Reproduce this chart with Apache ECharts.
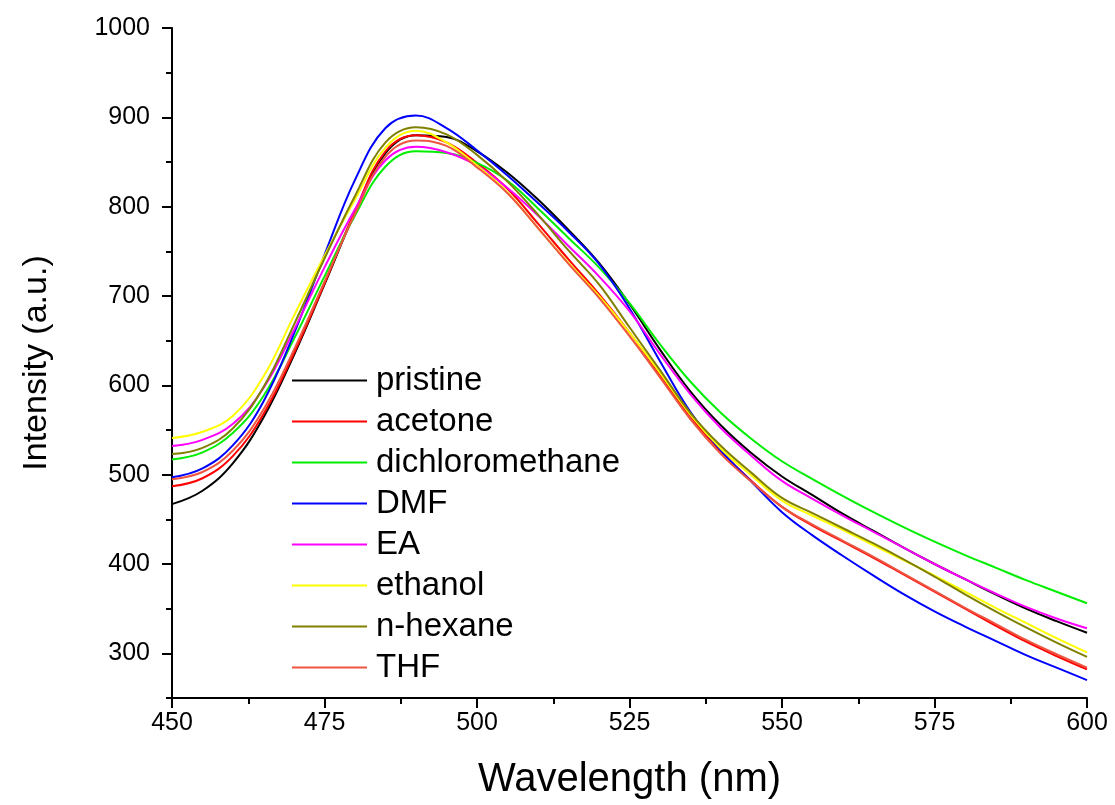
<!DOCTYPE html>
<html><head><meta charset="utf-8">
<script src="https://cdn.jsdelivr.net/npm/echarts@6/dist/echarts.min.js"></script>
<style>html,body{margin:0;padding:0;background:#fff}#chart{width:1115px;height:805px}</style>
</head><body><div id="chart"></div>
<script>
const wavelength = [450,455,460,465,470,475,480,485,490,495,500,505,510,515,520,525,530,535,540,545,550,555,560,565,570,575,580,585,590,595,600];
const pristine =        [467,482,513,564,634,713,793,860,880,878,862,838,808,774,737,691,640,593,555,524,498,477,456,437,418,400,383,366,350,336,323];
const acetone =         [487,496,521,568,636,714,795,862,880,872,849,820,781,741,702,659,612,565,526,493,464,443,425,407,388,369,350,331,313,297,282];
const dichloromethane = [517,525,547,588,652,722,790,845,862,860,849,829,798,765,732,692,646,604,569,540,515,495,476,458,441,425,410,396,382,369,356];
const DMF =             [497,507,533,582,658,746,830,888,902,888,863,835,804,772,736,686,627,570,527,492,458,432,409,387,366,347,330,314,298,284,270];
const EA =              [532,539,557,597,662,732,797,852,867,861,846,821,790,756,722,683,635,590,552,521,493,473,454,436,418,400,383,367,352,339,328];
const ethanol =         [541,548,566,610,678,745,808,866,885,872,846,816,776,737,700,659,614,567,529,499,471,454,438,421,404,387,369,351,334,317,301];
const nHexane =         [523,530,552,598,668,742,812,872,889,881,858,828,791,751,713,665,617,569,532,502,474,457,440,423,405,386,366,347,329,312,296];
const THF =             [495,503,527,573,640,716,792,856,874,868,844,815,776,736,698,655,609,562,523,492,464,444,426,408,389,370,351,333,315,299,284];

const seriesNames = ['pristine','acetone','dichloromethane','DMF','EA','ethanol','n-hexane','THF'];
const seriesValues = [pristine, acetone, dichloromethane, DMF, EA, ethanol, nHexane, THF];
const seriesColors = ['#000000','#ff0000','#00ee00','#0000ff','#ff00ff','#ffff00','#808000','#ee5540'];

const xTicks = [450,475,500,525,550,575,600];
const yMajor = [300,400,500,600,700,800,900,1000];
const yMinor = [250,350,450,550,650,750,850,950];

const FONT = '"Liberation Sans", Arial, sans-serif';
const chart = echarts.init(document.getElementById('chart'), null, {renderer:'canvas'});

const series = seriesNames.map((n, k) => ({
  name: n,
  type: 'line',
  smooth: 0.4,
  showSymbol: false,
  symbol: 'none',
  yAxisIndex: 0,
  lineStyle: {width: 2, color: seriesColors[k]},
  itemStyle: {color: seriesColors[k]},
  data: wavelength.map((w, i) => [w, seriesValues[k][i]])
}));

chart.setOption({
  animation: false,
  backgroundColor: '#fff',
  grid: {left: 172, right: 28, top: 28, bottom: 106, containLabel: false},
  legend: {
    data: seriesNames,
    orient: 'vertical',
    left: 292, top: 364,
    padding: 0,
    itemWidth: 75, itemHeight: 2,
    itemGap: 8,
    icon: 'rect',
    textStyle: {fontSize: 33, lineHeight: 33, color: '#000', fontFamily: FONT, padding: [0,0,0,4]}
  },
  xAxis: {
    type: 'value', min: 450, max: 600, interval: 25,
    axisLine: {lineStyle: {color: '#000', width: 2}},
    axisTick: {length: 10, lineStyle: {color: '#000', width: 2}},
    minorTick: {show: true, splitNumber: 2, length: 6, lineStyle: {color: '#000', width: 2}},
    splitLine: {show: false}, minorSplitLine: {show: false},
    axisLabel: {fontSize: 25, color: '#000', fontFamily: FONT, margin: 13,
      customValues: xTicks, formatter: v => String(v)},
    name: 'Wavelength (nm)', nameLocation: 'middle', nameGap: 62,
    nameTextStyle: {fontSize: 40, color: '#000', fontFamily: FONT}
  },
  yAxis: [{
    type: 'value', min: 250, max: 1000, interval: 50,
    axisLine: {show: true, lineStyle: {color: '#000', width: 2}},
    axisTick: {show: true, length: 10, customValues: yMajor, lineStyle: {color: '#000', width: 2}},
    axisLabel: {fontSize: 25, color: '#000', fontFamily: FONT, margin: 22, customValues: yMajor,
      formatter: v => String(v)},
    splitLine: {show: false},
    name: 'Intensity (a.u.)', nameLocation: 'middle', nameGap: 118, nameRotate: 90,
    nameTextStyle: {fontSize: 34, color: '#000', fontFamily: FONT}
  }, {
    type: 'value', min: 250, max: 1000, interval: 50, position: 'left',
    axisLine: {show: false},
    axisTick: {show: true, length: 6, customValues: yMinor, lineStyle: {color: '#000', width: 2}},
    axisLabel: {show: false},
    splitLine: {show: false}
  }],
  series: series
});
</script></body></html>
